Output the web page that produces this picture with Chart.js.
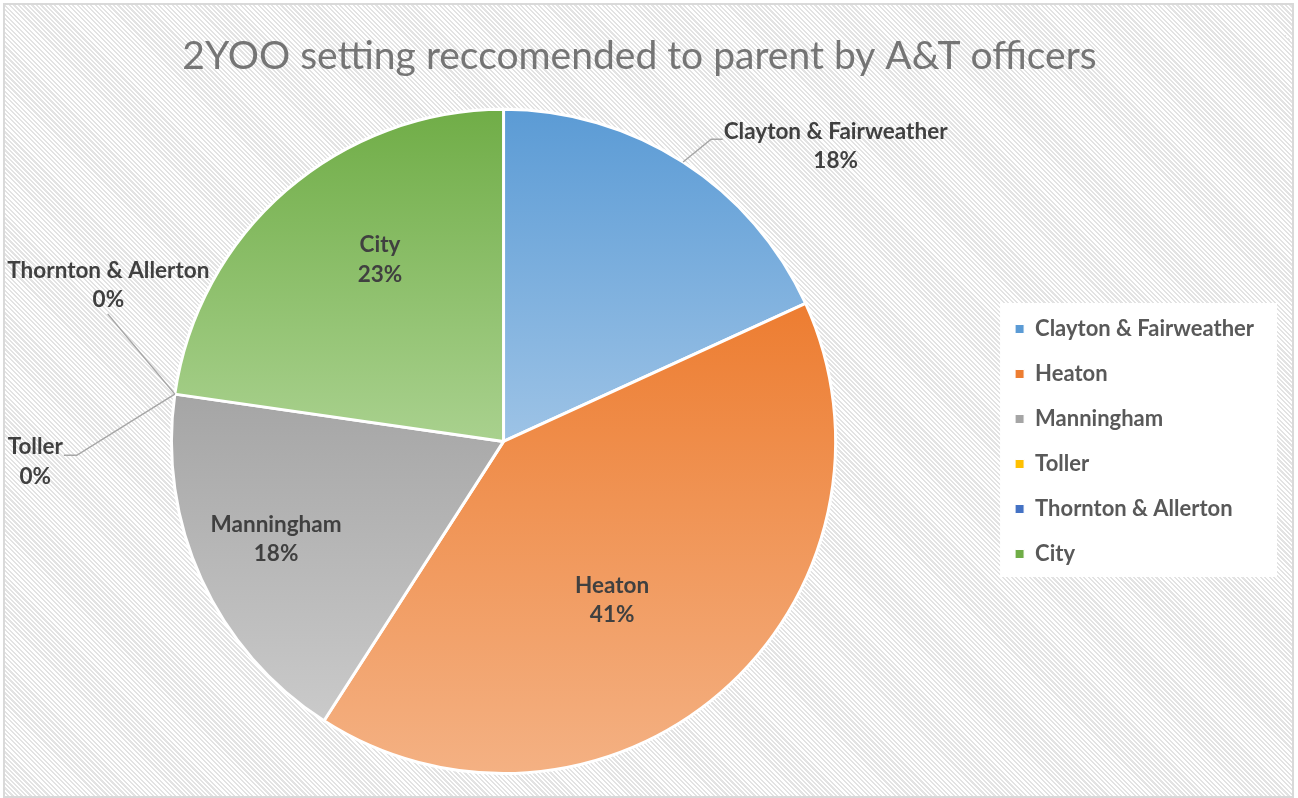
<!DOCTYPE html>
<html>
<head>
<meta charset="utf-8">
<script src="https://cdn.jsdelivr.net/npm/chart.js@4.4.0/dist/chart.umd.min.js"></script>
<style>
  html, body { margin: 0; padding: 0; background: #fff; }
  #frame {
    position: absolute; left: 3px; top: 3px; width: 1287px; height: 791px;
    border: 2px solid #d9d9d9;
    background: repeating-linear-gradient(45deg, #ffffff 0 1.6px, #e3e3e3 1.6px 3.2px);
  }
  #wrap { position: absolute; left: 0; top: 0; width: 1298px; height: 798px; }
</style>
</head>
<body>
<div id="frame"></div>
<div id="wrap"><canvas id="pieChart"></canvas></div>
<script>
const areas = ['Clayton & Fairweather', 'Heaton', 'Manningham', 'Toller', 'Thornton & Allerton', 'City']
const referrals = [4, 9, 4, 0, 0, 5]
const percentLabels = ['18%', '41%', '18%', '0%', '0%', '23%']
const topColors = ['#5b9bd5', '#ed7d31', '#a5a5a5', '#ffc000', '#4472c4', '#70ad47']
const bottomColors = ['#9dc3e6', '#f4b183', '#cacaca', '#ffd966', '#8faadc', '#a9d18e']

// where each data label sits, in pie radii from the centre (x right, y down)
const labelSpots = [
  { at: [1.0, -0.89], line: [[0.625, -0.91], [0.66, -0.91]] },
  { at: [0.327, 0.477] },
  { at: [-0.685, 0.294] },
  { at: [-1.41, 0.06], line: [[-1.285, 0.042], [-1.324, 0.042]] },
  { at: [-1.19, -0.471], line: [[-1.192, -0.384]] },
  { at: [-0.372, -0.547] }
]

const labelFont = 'bold 22.5px Lato'
const labelColor = '#404040'

function sliceGradient (context) {
  const i = context.dataIndex
  const el = context.element
  if (!el || el.outerRadius == null || el.x == null) return topColors[i]
  const { x, y, startAngle, endAngle, outerRadius } = el
  let ymin = Math.min(y, y + outerRadius * Math.sin(startAngle), y + outerRadius * Math.sin(endAngle))
  let ymax = Math.max(y, y + outerRadius * Math.sin(startAngle), y + outerRadius * Math.sin(endAngle))
  const within = (a) => {
    const tau = Math.PI * 2
    const s = ((startAngle % tau) + tau) % tau
    let t = ((a % tau) + tau) % tau
    if (t < s) t += tau
    return t <= s + (endAngle - startAngle)
  }
  if (within(-Math.PI / 2)) ymin = y - outerRadius
  if (within(Math.PI / 2)) ymax = y + outerRadius
  if (ymax - ymin < 1) return topColors[i]
  const g = context.chart.ctx.createLinearGradient(0, ymin, 0, ymax)
  g.addColorStop(0, topColors[i])
  g.addColorStop(1, bottomColors[i])
  return g
}

const legendPanel = {
  id: 'legendPanel',
  beforeDraw (chart) {
    const boxes = chart.legend && chart.legend.legendHitBoxes
    if (!boxes || !boxes.length) return
    const left = Math.min(...boxes.map(b => b.left)) - 15
    const right = Math.max(...boxes.map(b => b.left + b.width)) + 23
    const top = boxes[0].top - 15
    const bottom = boxes[boxes.length - 1].top + boxes[boxes.length - 1].height + 12
    const ctx = chart.ctx
    ctx.save()
    ctx.fillStyle = '#ffffff'
    ctx.fillRect(left, top, right - left, bottom - top)
    ctx.restore()
  }
}

const sliceLabels = {
  id: 'sliceLabels',
  afterDatasetsDraw (chart) {
    const ctx = chart.ctx
    const arcs = chart.getDatasetMeta(0).data
    ctx.save()
    arcs.forEach((arc, i) => {
      const spot = labelSpots[i]
      const r = arc.outerRadius
      const cx = arc.x
      const cy = arc.y
      if (spot.line) {
        const mid = (arc.startAngle + arc.endAngle) / 2
        ctx.beginPath()
        ctx.moveTo(cx + r * Math.cos(mid), cy + r * Math.sin(mid))
        spot.line.forEach(([px, py]) => ctx.lineTo(cx + px * r, cy + py * r))
        ctx.strokeStyle = '#a6a6a6'
        ctx.lineWidth = 1.5
        ctx.stroke()
      }
      const tx = cx + spot.at[0] * r
      const ty = cy + spot.at[1] * r
      ctx.font = labelFont
      ctx.fillStyle = labelColor
      ctx.textAlign = 'center'
      ctx.textBaseline = 'middle'
      ctx.fillText(areas[i], tx, ty - 14.5)
      ctx.fillText(percentLabels[i], tx, ty + 15)
    })
    ctx.restore()
  }
}

const ctx = document.getElementById('pieChart').getContext('2d')

const pieChart = new Chart(ctx, {
  type: 'pie',
  data: {
    labels: areas,
    datasets: [{
      data: referrals,
      backgroundColor: sliceGradient,
      borderColor: '#ffffff',
      borderWidth: (c) => referrals[c.dataIndex] === 0 ? 0 : 3
    }]
  },
  options: {
    responsive: true,
    maintainAspectRatio: false,
    animation: false,
    layout: { padding: { left: 15, right: 34, top: 0, bottom: 23 } },
    plugins: {
      title: {
        display: true,
        text: '2YOO setting reccomended to parent by A&T officers',
        color: '#757575',
        font: { family: 'Lato', size: 39, weight: 'normal' },
        padding: { top: 33, bottom: 28 }
      },
      legend: {
        position: 'right',
        title: { display: true, text: '', font: { size: 10 }, padding: { top: 0, bottom: 96 } },
        labels: {
          font: { family: 'Lato', size: 22, weight: 'bold' },
          color: '#595959',
          boxWidth: 9,
          boxHeight: 9,
          padding: 23,
          generateLabels: (chart) => areas.map((name, i) => ({
            text: name,
            fillStyle: topColors[i],
            strokeStyle: '#ffffff',
            lineWidth: 1,
            fontColor: '#595959',
            index: i,
            hidden: false
          }))
        }
      },
      tooltip: { enabled: false }
    }
  },
  plugins: [legendPanel, sliceLabels]
})

pieChart.update('none')
</script>
</body>
</html>
